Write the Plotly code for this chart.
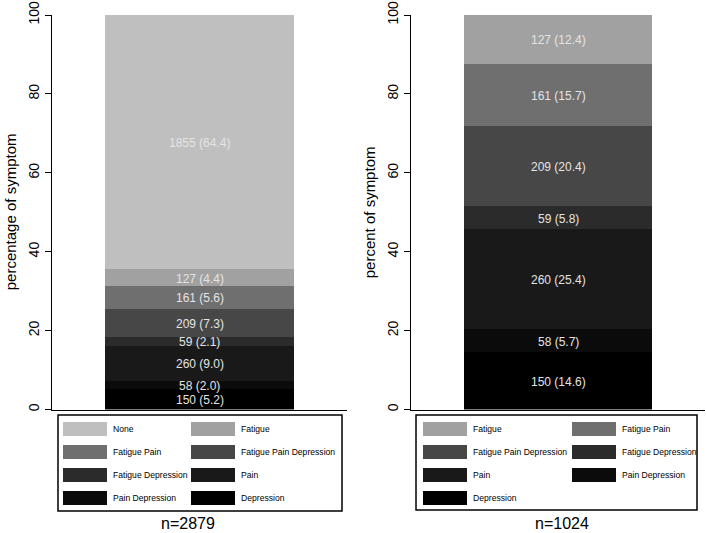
import plotly.graph_objects as go

# ---- data (bottom to top of each stack) ----
cats_left = ["Depression", "Pain Depression", "Pain", "Fatigue Depression",
             "Fatigue Pain Depression", "Fatigue Pain", "Fatigue", "None"]
counts_left = [150, 58, 260, 59, 209, 161, 127, 1855]
pct_left = [5.2, 2.0, 9.0, 2.1, 7.3, 5.6, 4.4, 64.4]

cats_right = ["Depression", "Pain Depression", "Pain", "Fatigue Depression",
              "Fatigue Pain Depression", "Fatigue Pain", "Fatigue"]
counts_right = [150, 58, 260, 59, 209, 161, 127]
pct_right = [14.6, 5.7, 25.4, 5.8, 20.4, 15.7, 12.4]

n_left = "n=2879"
n_right = "n=1024"
ytitle_left = "percentage of symptom"
ytitle_right = "percent of symptom"
yticks = [0, 20, 40, 60, 80, 100]

colors = {
    "None": "#bfbfbf",
    "Fatigue": "#a1a1a1",
    "Fatigue Pain": "#6f6f6f",
    "Fatigue Pain Depression": "#474747",
    "Fatigue Depression": "#2b2b2b",
    "Pain": "#191919",
    "Pain Depression": "#0b0b0b",
    "Depression": "#000000",
}

W, H = 706, 533
FONT = "Liberation Sans, Arial, Helvetica, sans-serif"


def px(x):
    return x / W


def py(y):
    return 1 - y / H


fig = go.Figure()
annotations = []
shapes = []


def add_panel(cats, counts, pcts, xa, ya, xref, yref):
    cum = 0
    for c, n, p in zip(cats, counts, pcts):
        fig.add_trace(go.Bar(x=[0], y=[p], name=c, marker_color=colors[c],
                             marker_line_width=0, width=0.64, showlegend=False,
                             xaxis=xa, yaxis=ya, hoverinfo="skip"))
        annotations.append(dict(x=0, y=cum + p / 2, xref=xref, yref=yref,
                                text=f"{n} ({p:.1f})", showarrow=False, yshift=-1,
                                xanchor="center", yanchor="middle",
                                font=dict(size=12, color="#e4e4e4", family=FONT)))
        cum += p


add_panel(cats_left, counts_left, pct_left, "x", "y", "x", "y")
add_panel(cats_right, counts_right, pct_right, "x2", "y2", "x2", "y2")

axis_common_x = dict(range=[-0.5, 0.5], showticklabels=False, ticks="",
                     showline=True, linecolor="black", linewidth=1,
                     showgrid=False, zeroline=False, fixedrange=True,
                     automargin=False)
axis_common_y = dict(range=[0, 100], tickvals=yticks, tickangle=-90,
                     ticks="outside", ticklen=6, tickwidth=1, tickcolor="black",
                     showline=True, linecolor="black", linewidth=1,
                     showgrid=False, zeroline=False, automargin=False,
                     fixedrange=True,
                     tickfont=dict(size=14, color="black", family=FONT))

ydom = [py(409.5), py(15)]
fig.update_layout(
    xaxis=dict(domain=[px(52), px(347)], anchor="y", **axis_common_x),
    yaxis=dict(domain=ydom, anchor="x", **axis_common_y),
    xaxis2=dict(domain=[px(411), px(705)], anchor="y2", **axis_common_x),
    yaxis2=dict(domain=ydom, anchor="x2", **axis_common_y),
    barmode="stack", bargap=0,
)

# y-axis titles
for xpos, t in [(10, ytitle_left), (369, ytitle_right)]:
    annotations.append(dict(x=px(xpos), y=(ydom[0] + ydom[1]) / 2, xref="paper", yref="paper",
                            text=t, textangle=-90, showarrow=False,
                            xanchor="center", yanchor="middle",
                            font=dict(size=15, color="black", family=FONT)))


# legends
def add_legend(order, box, col_x, row_y, sw_w=44, sw_h=14, lab_gap=4):
    x0, y0, x1, y1 = box
    shapes.append(dict(type="rect", xref="paper", yref="paper",
                       x0=px(x0), x1=px(x1), y0=py(y0), y1=py(y1),
                       line=dict(color="black", width=1.5), fillcolor="white"))
    for i, c in enumerate(order):
        r, k = divmod(i, 2)
        sx = col_x[k]
        sy = row_y[r]
        shapes.append(dict(type="rect", xref="paper", yref="paper",
                           x0=px(sx), x1=px(sx + sw_w), y0=py(sy + sw_h / 2), y1=py(sy - sw_h / 2),
                           line=dict(width=0), fillcolor=colors[c]))
        annotations.append(dict(x=px(sx + sw_w + lab_gap), y=py(sy), xref="paper", yref="paper",
                                text=c, showarrow=False, xanchor="left", yanchor="middle",
                                font=dict(size=8.6, color="black", family=FONT)))


rows = [429, 452, 475, 498]
add_legend(list(reversed(cats_left)), (58, 415, 342, 511), [63, 191], rows)
add_legend(list(reversed(cats_right)), (416, 415, 697, 510), [423, 572], rows)

# n labels
for xpos, t in [(188, n_left), (562, n_right)]:
    annotations.append(dict(x=px(xpos), y=py(523), xref="paper", yref="paper",
                            text=t, showarrow=False, xanchor="center", yanchor="middle",
                            font=dict(size=16, color="black", family=FONT)))

fig.update_layout(
    width=W, height=H, margin=dict(l=0, r=0, t=0, b=0, pad=0),
    paper_bgcolor="white", plot_bgcolor="white",
    annotations=annotations, shapes=shapes, showlegend=False,
)

fig.write_html("out.html", config={"displayModeBar": False, "staticPlot": True},
               post_script="document.body.style.margin='0';document.body.style.padding='0';")
